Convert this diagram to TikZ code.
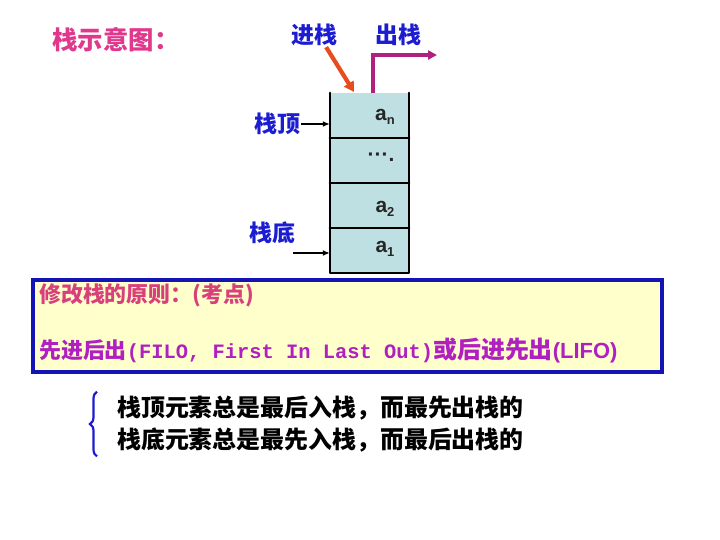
\documentclass[tikz,border=0pt]{standalone}
\usepackage{fontspec}
\usepackage{xcolor}
\usepackage{tikz}
\usetikzlibrary{arrows.meta,calc,decorations.pathreplacing}
\newfontfamily\cjk{Noto Sans CJK SC}
\newfontfamily\arialf{Liberation Sans}
\newfontfamily\courf{Liberation Mono}
\definecolor{titlePink}{HTML}{E0388C}
\definecolor{rulePink}{HTML}{D8407C}
\definecolor{rulePurple}{HTML}{B020C0}
\definecolor{tagBlue}{HTML}{1C1CD0}
\definecolor{stackFill}{HTML}{BFE0E2}
\definecolor{noteFill}{HTML}{FFFFCC}
\definecolor{noteBorder}{HTML}{1414B4}
\definecolor{pushRed}{HTML}{E84C1C}
\definecolor{popMagenta}{HTML}{B0207F}
\newcommand{\elsub}[1]{\raisebox{-4bp}{\fontsize{13}{13}\selectfont #1}}
\tikzset{
  sTitle/.style={font=\cjk\bfseries\fontsize{25.5}{27}\selectfont,text=titlePink,inner sep=0pt},
  sTag/.style={font=\cjk\bfseries\fontsize{23}{25}\selectfont,text=tagBlue,inner sep=1pt},
  sCell/.style={fill=stackFill,minimum width=79bp,minimum height=45bp,inner sep=0pt},
  sWall/.style={line width=2.3bp,line cap=round,line join=round},
  sElem/.style={font=\arialf\bfseries\fontsize{21}{23}\selectfont,text=black!85,inner sep=0pt},
  sPtr/.style={line width=1.6bp,-{Latex[length=7bp,width=6bp]}},
  sPush/.style={draw=pushRed,line width=4.2bp,-{Triangle[length=10bp,width=11bp]}},
  sPop/.style={draw=popMagenta,line width=3.2bp,-{Triangle[length=9bp,width=9bp]}},
  sNote/.style={draw=noteBorder,fill=noteFill,line width=3.4bp,minimum width=629bp,minimum height=92bp},
  sRuleA/.style={font=\cjk\bfseries\fontsize{22}{24}\selectfont,text=rulePink,inner sep=0pt,anchor=west},
  sRuleB/.style={font=\cjk\bfseries\fontsize{22}{24}\selectfont,text=rulePurple,inner sep=0pt,anchor=west},
  sFact/.style={font=\cjk\bfseries\fontsize{24}{26}\selectfont,inner sep=0pt,anchor=west},
  sBrace/.style={draw=tagBlue,line width=2.2bp,decorate,decoration={brace,amplitude=7bp}},
}
\begin{document}
\begin{tikzpicture}[x=1bp,y=-1bp]
\useasboundingbox (0,0) rectangle (720,540);
\node[sTitle] (title) at (116,40) {栈示意图：};
\node[sTag] (push) at (314,35) {进栈};
\node[sTag] (pop)  at (398,35) {出栈};
\node[sTag] (top)  at (277,124) {栈顶};
\node[sTag] (bot)  at (272,233) {栈底};
\node[sCell] (cn) at (369.5,115.5) {};
\node[sCell] (cd) at (369.5,160.5) {};
\node[sCell] (c2) at (369.5,205.5) {};
\node[sCell] (c1) at (369.5,250.5) {};
\draw[sWall] (cn.north west) -- (c1.south west) -- (c1.south east) -- (cn.north east);
\draw[sWall] (cn.south west) -- (cn.south east);
\draw[sWall] (cd.south west) -- (cd.south east);
\draw[sWall] (c2.south west) -- (c2.south east);
\node[sElem] (en) at (385,117) {a\elsub{n}};
\node[sElem] (ed) at (381,157) {···.};
\node[sElem] (e2) at (385,209) {a\elsub{2}};
\node[sElem] (e1) at (385,249) {a\elsub{1}};
\coordinate (pushin) at (354,92);
\coordinate (popturn) at (373,55);
\coordinate (popend) at (437,55);
\coordinate (bottail) at (293,253);
\draw[sPush] (push.south east) ++(-12,0) -- (pushin);
\draw[sPop] (cn.north -| popturn) -- (popturn) -- (popend);
\draw[sPtr] (top.east) -- (top.east -| cn.west);
\draw[sPtr] (bottail) -- (bottail -| c1.west);
\node[sNote] (rule) at (347.5,326) {};
\node[sRuleA] (r1) at (39,295) {修改栈的原则：(考点)};
\node[sRuleB] (r2) at (39,350) {先进后出{\courf\bfseries\fontsize{20.5}{22}\selectfont(FILO, First In Last Out)}{\fontsize{24}{24}\selectfont 或后进先出}{\arialf\bfseries\fontsize{22}{23}\selectfont(LIFO)}};
\node[sFact] (f1) at (117,408) {栈顶元素总是最后入栈，而最先出栈的};
\node[sFact] (f2) at (117,440) {栈底元素总是最先入栈，而最后出栈的};
\draw[sBrace] ($(f2.south west)+(-20,4)$) -- ($(f1.north west)+(-20,-4)$);
\end{tikzpicture}
\end{document}
